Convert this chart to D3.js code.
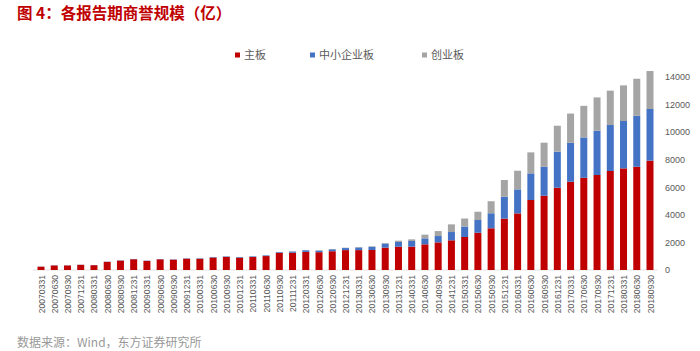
<!DOCTYPE html>
<html>
<head>
<meta charset="utf-8">
<script src="https://cdn.jsdelivr.net/npm/d3@7"></script>
<style>
  body { margin: 0; background: #fff; }
  svg { font-family: "Noto Sans CJK SC", "Noto Sans", sans-serif; }
</style>
</head>
<body>
<div id="chart"></div>
<script>
/*** dados ***/
var periodos = ["20070331","20070630","20070930","20071231","20080331","20080630","20080930","20081231",
  "20090331","20090630","20090930","20091231","20100331","20100630","20100930","20101231",
  "20110331","20110630","20110930","20111231","20120331","20120630","20120930","20121231",
  "20130331","20130630","20130930","20131231","20140331","20140630","20140930","20141231",
  "20150331","20150630","20150930","20151231","20160331","20160630","20160930","20161231",
  "20170331","20170630","20170930","20171231","20180331","20180630","20180930"];

var zhuban = [240,330,330,375,350,590,680,780,660,775,750,820,815,905,950,900,
  940,1010,1240,1250,1310,1290,1360,1440,1440,1450,1620,1690,1690,1860,2000,2150,
  2390,2700,3020,3720,4100,5070,5380,5960,6390,6680,6880,7170,7360,7480,7920];
var zhongxiao = [10,10,10,10,10,15,20,20,20,20,20,25,30,35,35,40,
  45,50,55,90,120,115,140,150,195,230,290,340,410,430,460,600,
  760,920,1090,1590,1740,1930,2100,2610,2820,2920,3210,3330,3430,3690,3740];
var chuangye = [0,0,0,0,0,0,0,0,0,0,0,0,5,5,5,5,
  5,5,10,10,15,20,20,25,30,40,50,95,120,270,360,555,
  580,600,870,1210,1350,1520,1740,1880,2120,2290,2410,2490,2580,2680,2750];

var series = ["主板", "中小企业板", "创业板"];
var cores = ["#c00000", "#4472c4", "#a5a5a5"];
var yTicks = [0, 2000, 4000, 6000, 8000, 10000, 12000, 14000];

var width = 700, height = 351;

var svg = d3.select("#chart").append("svg")
  .attr("width", width)
  .attr("height", height);

// titulo
svg.append("text")
  .attr("x", 17).attr("y", 19)
  .attr("fill", "#c00000")
  .attr("font-size", 15.5)
  .attr("font-weight", "bold")
  .text("图 4：各报告期商誉规模（亿）");

// fonte
svg.append("text")
  .attr("x", 17).attr("y", 347)
  .attr("fill", "#999999")
  .attr("font-size", 12)
  .text("数据来源：Wind，东方证券研究所");

/*** escalas ***/
var x = d3.scalePoint().domain(periodos).range([41, 650]);
var y = d3.scaleLinear().domain([0, 14000]).range([270, 76.7]);

var tabela = periodos.map(function (p, i) {
  return { p: p, "主板": zhuban[i], "中小企业板": zhongxiao[i], "创业板": chuangye[i] };
});
var stack = d3.stack().keys(series)(tabela);

// linha base
svg.append("line")
  .attr("x1", 33).attr("x2", 658)
  .attr("y1", y(0)).attr("y2", y(0))
  .attr("stroke", "#e3e3e3");

var barW = 7;
svg.selectAll("g.serie")
  .data(stack)
  .enter()
  .append("g")
  .attr("class", "serie")
  .attr("fill", function (d, i) { return cores[i]; })
  .selectAll("rect")
  .data(function (d) { return d; })
  .enter()
  .append("rect")
  .attr("x", function (d) { return x(d.data.p) - barW / 2; })
  .attr("width", barW)
  .attr("y", function (d) { return y(d[1]); })
  .attr("height", function (d) { return Math.max(0, y(d[0]) - y(d[1])); });

/*** eixo y à direita ***/
var yAxis = svg.append("g")
  .attr("transform", "translate(660,0)")
  .call(d3.axisRight(y).tickValues(yTicks).tickFormat(d3.format("d")).tickSize(0).tickPadding(5));
yAxis.select(".domain").remove();
yAxis.selectAll("text")
  .attr("fill", "#595959")
  .attr("font-size", 9)
  .attr("font-family", "Liberation Sans, Arial, sans-serif");

/*** eixo x, rotulos rodados ***/
var xAxis = svg.append("g")
  .attr("transform", "translate(0," + y(0) + ")")
  .call(d3.axisBottom(x).tickSize(0).tickPadding(0));
xAxis.select(".domain").remove();
xAxis.selectAll("text")
  .attr("fill", "#595959")
  .attr("font-size", 8.6)
  .attr("font-family", "Liberation Sans, Arial, sans-serif")
  .attr("text-anchor", "end")
  .attr("dy", "0.35em")
  .attr("transform", "translate(0,5) rotate(-90)")
  .attr("y", 0)
  .attr("x", 0);

/*** legenda ***/
var legX = [235, 310, 422];
var leg = svg.selectAll("g.leg")
  .data(series)
  .enter()
  .append("g")
  .attr("class", "leg")
  .attr("transform", function (d, i) { return "translate(" + legX[i] + ",55)"; });
leg.append("rect")
  .attr("x", 0).attr("y", -2.5)
  .attr("width", 5).attr("height", 5)
  .attr("fill", function (d, i) { return cores[i]; });
leg.append("text")
  .attr("x", 9).attr("y", 0)
  .attr("dy", "0.36em")
  .attr("font-size", 11)
  .attr("fill", "#595959")
  .text(function (d) { return d; });
</script>
</body>
</html>
